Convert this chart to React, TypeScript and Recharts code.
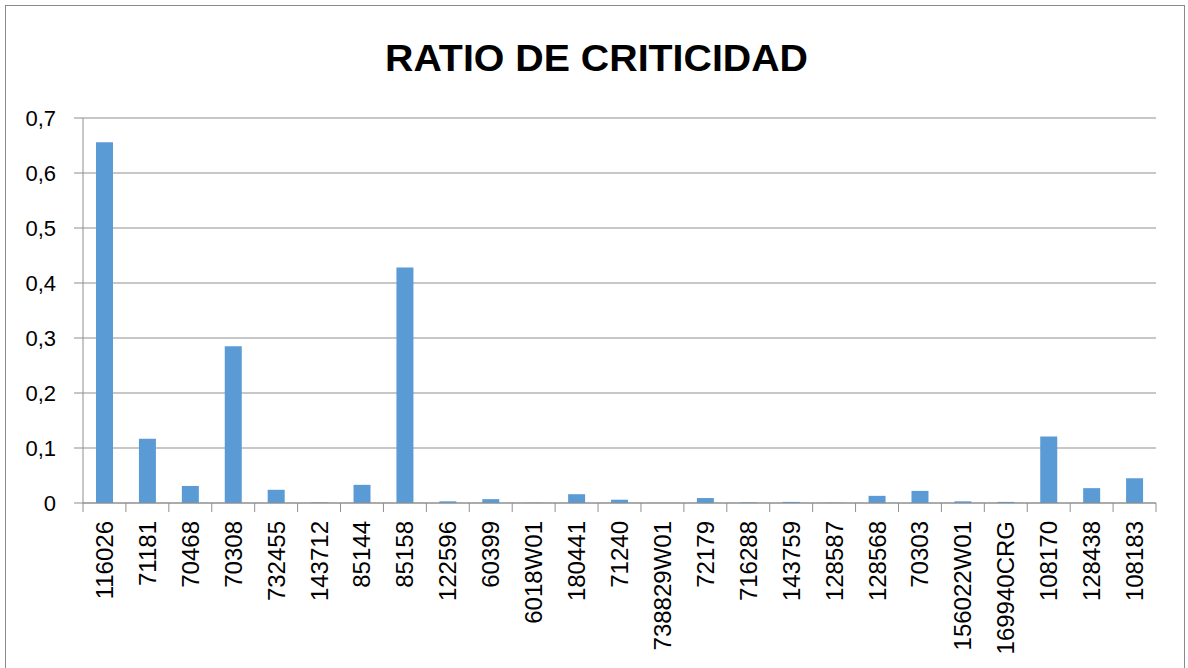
import React from "react";
import { BarChart, Bar, XAxis, YAxis, CartesianGrid } from "recharts";

const categories = [
  "116026", "71181", "70468", "70308", "732455", "143712", "85144", "85158",
  "122596", "60399", "6018W01", "180441", "71240", "738829W01", "72179",
  "716288", "143759", "128587", "128568", "70303", "156022W01", "169940CRG",
  "108170", "128438", "108183",
];

const ratios = [
  0.656, 0.117, 0.031, 0.285, 0.024, 0.001, 0.033, 0.428,
  0.003, 0.007, 0.0005, 0.016, 0.006, 0, 0.009,
  0.001, 0.002, 0.0005, 0.013, 0.022, 0.003, 0.002,
  0.121, 0.027, 0.045,
];

const yTicks = [0, 0.1, 0.2, 0.3, 0.4, 0.5, 0.6, 0.7];

const data = categories.map((name, i) => ({ name, ratio: ratios[i] }));

const WIDTH = 1188;
const HEIGHT = 668;
const Y_AXIS_W = 83;
const MARGIN_RIGHT = 32;
const MARGIN_TOP = 118;
const X_AXIS_H = 165;
const GRID = "#8f8f8f";
const FONT = "'Liberation Sans', Arial, sans-serif";

const band = (WIDTH - Y_AXIS_W - MARGIN_RIGHT) / categories.length;

const formatY = (v: number) => (v === 0 ? "0" : v.toFixed(1).replace(".", ","));

const CategoryTick = (props: any) => {
  const { x, y, payload, index } = props;
  const ty = y + 18;
  return (
    <g>
      <line x1={x - band / 2} x2={x - band / 2} y1={y} y2={y + 9} stroke={GRID} />
      {index === categories.length - 1 && (
        <line x1={x + band / 2} x2={x + band / 2} y1={y} y2={y + 9} stroke={GRID} />
      )}
      <text
        x={x}
        y={ty}
        transform={`rotate(-90, ${x}, ${ty})`}
        textAnchor="end"
        dominantBaseline="central"
        fontSize={24}
        fontFamily={FONT}
        fill="#000"
      >
        {payload.value}
      </text>
    </g>
  );
};

export default function App() {
  return (
    <div style={{ position: "relative", width: WIDTH, height: HEIGHT, overflow: "hidden", background: "#fff" }}>
      <style>{`body{margin:0}`}</style>
      {/* chart area border */}
      <div
        style={{
          position: "absolute",
          left: 5,
          top: 5,
          width: 1180,
          height: 700,
          border: "1px solid #8a8a8a",
          boxSizing: "border-box",
        }}
      />
      <svg width={WIDTH} height={100} style={{ position: "absolute", left: 0, top: 0 }}>
        <text
          x={596.5}
          y={71}
          textAnchor="middle"
          fontSize={37}
          fontWeight="bold"
          fontFamily={FONT}
          textLength={423}
          lengthAdjust="spacingAndGlyphs"
          fill="#000"
        >
          RATIO DE CRITICIDAD
        </text>
      </svg>
      <div style={{ position: "absolute", left: 0, top: 0 }}>
        <BarChart
          width={WIDTH}
          height={HEIGHT}
          data={data}
          margin={{ top: MARGIN_TOP, right: MARGIN_RIGHT, left: 0, bottom: 0 }}
        >
          <CartesianGrid vertical={false} stroke={GRID} />
          <XAxis
            dataKey="name"
            interval={0}
            height={X_AXIS_H}
            axisLine={{ stroke: GRID }}
            tickLine={false}
            tickSize={0}
            tickMargin={0}
            tick={<CategoryTick />}
          />
          <YAxis
            width={Y_AXIS_W}
            domain={[0, 0.7]}
            ticks={yTicks}
            tickFormatter={formatY}
            axisLine={{ stroke: GRID }}
            tickLine={{ stroke: GRID }}
            tickSize={9}
            tickMargin={18}
            tick={{ fontSize: 22, fontFamily: FONT, fill: "#000" }}
          />
          <Bar dataKey="ratio" fill="#5B9BD5" barSize={17} isAnimationActive={false} />
        </BarChart>
      </div>
    </div>
  );
}
